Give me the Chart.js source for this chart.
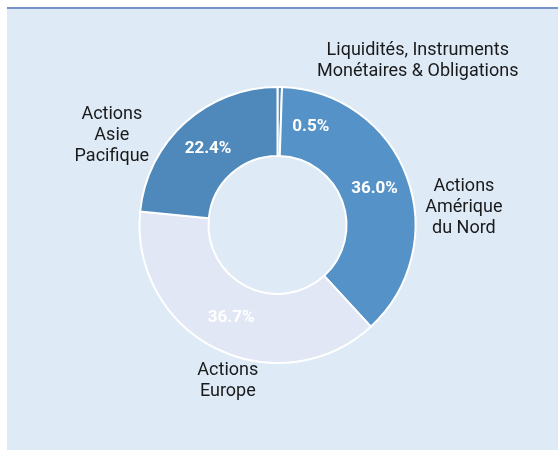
<!DOCTYPE html>
<html>
<head>
<meta charset="utf-8">
<script src="https://cdn.jsdelivr.net/npm/chart.js@4"></script>
<style>
  html, body { margin: 0; padding: 0; background: #fff; }
  .panel {
    position: absolute; left: 7px; top: 7px; width: 560px; height: 450px;
    background: #deeaf6; border-top: 2px solid #7592c9;
  }
  #ring { position: absolute; left: 0; top: 0; }
</style>
</head>
<body>
<div class="panel"></div>
<canvas id="ring" width="558" height="450"></canvas>
<script>
// categories and values (percent of portfolio)
const categories = [
  ['Liquidités, Instruments', 'Monétaires & Obligations'],
  ['Actions', 'Amérique', 'du Nord'],
  ['Actions', 'Europe'],
  ['Actions', 'Asie', 'Pacifique']
];
const weights = [0.5, 36.0, 36.7, 22.4];
const sliceColors = ['#4f8abf', '#5592c8', '#e1e7f4', '#4f88bb'];

// label placement (style only): offset of outer label from slice's outer mid point
const outerOffsets = [[138, -26], [57, 30], [12, 33], [-73, 13]];
// angular nudge (degrees) for percent labels, so the tiny slice label fits
const innerNudge = [17.8, 0, 0, 0];

const labelPlugin = {
  id: 'sliceLabels',
  afterDatasetsDraw(chart) {
    const ctx = chart.ctx;
    const arcs = chart.getDatasetMeta(0).data;
    ctx.save();
    arcs.forEach((arc, i) => {
      const p = arc.getProps(['x', 'y', 'startAngle', 'endAngle', 'innerRadius', 'outerRadius'], true);
      const mid = (p.startAngle + p.endAngle) / 2;

      // percent inside the ring
      const a = mid + innerNudge[i] * Math.PI / 180;
      const r = (p.innerRadius + p.outerRadius) / 2;
      ctx.fillStyle = '#ffffff';
      ctx.font = 'bold 17px Roboto';
      ctx.textAlign = 'center';
      ctx.textBaseline = 'middle';
      ctx.fillText(weights[i].toFixed(1) + '%', p.x + Math.cos(a) * r, p.y + Math.sin(a) * r);

      // category name outside
      const ox = p.x + Math.cos(mid) * p.outerRadius + outerOffsets[i][0];
      const oy = p.y + Math.sin(mid) * p.outerRadius + outerOffsets[i][1];
      const lines = categories[i];
      const lh = 21;
      ctx.fillStyle = '#1a1a1a';
      ctx.font = '18px Roboto';
      lines.forEach((t, k) => {
        ctx.fillText(t, ox, oy + (k - (lines.length - 1) / 2) * lh);
      });
    });
    ctx.restore();
  }
};

new Chart(document.getElementById('ring').getContext('2d'), {
  type: 'doughnut',
  data: {
    labels: categories.map(c => c.join(' ')),
    datasets: [{
      data: weights,
      backgroundColor: sliceColors,
      borderColor: '#ffffff',
      borderWidth: 2
    }]
  },
  options: {
    responsive: false,
    animation: false,
    cutout: '50%',
    layout: { padding: { top: 86, bottom: 86, left: 138, right: 141 } },
    plugins: {
      legend: { display: false },
      tooltip: { enabled: false }
    }
  },
  plugins: [labelPlugin]
});
</script>
</body>
</html>
